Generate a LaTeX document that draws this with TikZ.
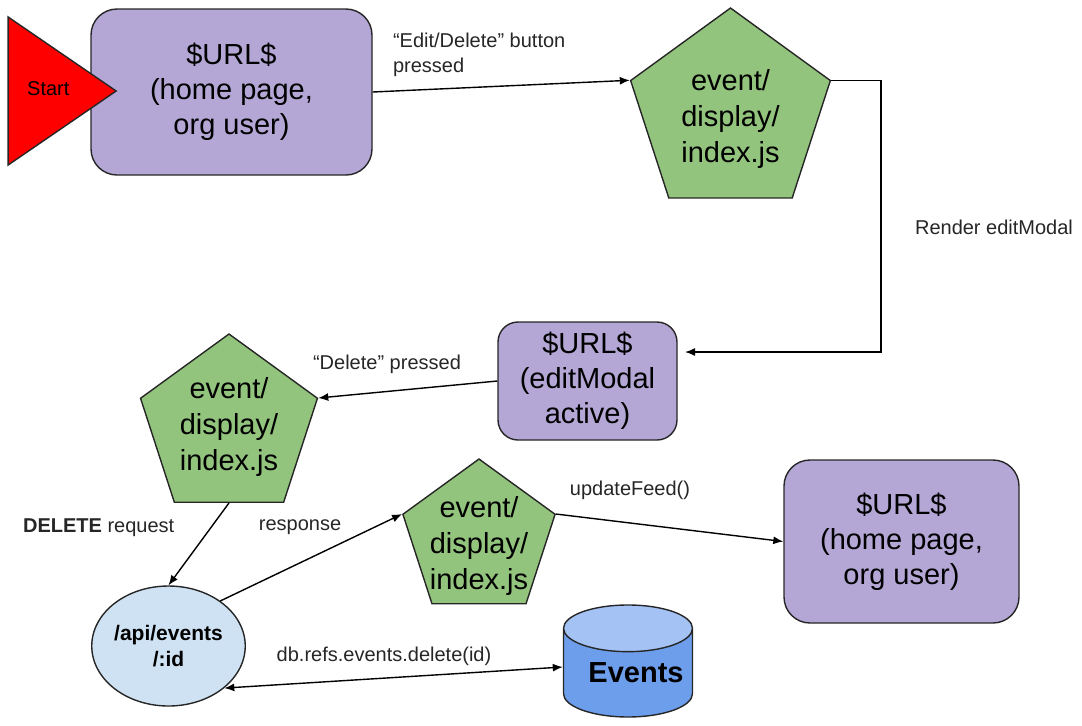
\documentclass[tikz,border=0pt]{standalone}
\usepackage{fontspec}
\setmainfont{Liberation Sans}
\usetikzlibrary{shapes.geometric,arrows.meta}

\definecolor{pagepurple}{HTML}{B4A7D6}
\definecolor{jsgreen}{HTML}{93C47D}
\definecolor{apiblue}{HTML}{CFE2F3}
\definecolor{dbblue}{HTML}{6D9EEB}
\definecolor{dbtop}{HTML}{A4C2F4}

\tikzset{
	page/.style={draw=black!85, line width=0.7pt, fill=pagepurple, rounded corners=13pt,
		align=center, font=\fontsize{14.5}{17.5}\selectfont, inner sep=0pt},
	jsfile/.style={draw=black!85, line width=0.7pt, fill=jsgreen, regular polygon,
		regular polygon sides=5, inner sep=0pt},
	jstext/.style={align=center, font=\fontsize{14.5}{18}\selectfont},
	flow/.style={line width=0.7pt, -{Latex[length=5pt,width=4pt]}},
	flowboth/.style={line width=0.7pt, {Latex[length=5pt,width=4pt]}-{Latex[length=5pt,width=4pt]}},
	note/.style={font=\fontsize{10}{12.5}\selectfont, text=black!85}
}

\begin{document}
\begin{tikzpicture}[x=0.5pt,y=-0.5pt]
	\useasboundingbox (0,0) rectangle (1082,725);
	%% pages
	\node[page, minimum width=140.5pt, minimum height=83pt] (home) at (231.5,92) {\$URL\$\\(home page,\\org user)};
	\node[page, rounded corners=10pt, minimum width=89.5pt, minimum height=59pt] (modal) at (587.5,381) {\$URL\$\\(editModal\\active)};
	\node[page, minimum width=117.5pt, minimum height=81.5pt] (feed) at (901.5,541.5) {\$URL\$\\(home page,\\org user)};
	%% start marker
	\node[draw=black!85, line width=0.7pt, fill=red, isosceles triangle, isosceles triangle stretches,
		minimum width=74pt, minimum height=54pt, inner sep=0pt, anchor=apex,
		font=\fontsize{10}{12}\selectfont] (start) at (118,91) {\raisebox{2pt}{Start}};
	%% event/display/index.js
	\node[jsfile, minimum size=105pt, label={[jstext, yshift=-3pt]center:event/\\display/\\index.js}] (jsedit) at (730.5,113) {};
	\node[jsfile, minimum size=93pt, label={[jstext]center:event/\\display/\\index.js}] (jsdel) at (229,427) {};
	\node[jsfile, minimum size=80pt, label={[jstext, yshift=-3.5pt]center:event/\\display/\\index.js}] (jsresp) at (479,539) {};
	%% api and database
	\node[draw=black!85, line width=0.7pt, ellipse, fill=apiblue, minimum width=70.5pt, minimum height=60pt,
		inner sep=0pt, align=center, font=\bfseries\fontsize{10.5}{13}\selectfont] (api) at (168.5,646) {/api/events\\/:id};
	\node[draw=black!85, line width=0.7pt, cylinder, shape border rotate=90, aspect=0.42,
		minimum width=64.5pt, minimum height=56pt, cylinder uses custom fill,
		cylinder body fill=dbblue, cylinder end fill=dbtop, inner sep=0pt,
		font=\bfseries\fontsize{14.5}{17}\selectfont] (db) at (628,673) {\hspace{8pt}Events};
	\coordinate (modalin) at (685,352);
	%% connectors
	\draw[flow] (home.east) -- (jsedit.corner 2);
	\draw[flow] (jsedit.corner 5) -- ++(50,0) |- (modalin);
	\draw[flow] (modal.west) -- (jsdel.corner 5);
	\draw[flow] (jsdel.side 3) -- (api.north);
	\draw[flow] (api.41) -- (jsresp.corner 2);
	\draw[flow] (jsresp.corner 5) -- (feed.west);
	\draw[flowboth] (api.-37) -- ([yshift=3pt]db.west);
	%% connector labels
	\node[note, anchor=west, align=left] (lbedit) at (386,54.5) {“Edit/Delete” button\\pressed};
	\node[note, anchor=west] (lbrender) at (908,227) {Render editModal};
	\node[note] (lbdelete) at (387,364) {“Delete” pressed};
	\node[note, anchor=west] (lbrequest) at (16,528) {\textbf{DELETE} request};
	\node[note] (lbresponse) at (300,527) {response};
	\node[note] (lbupdate) at (630,490) {updateFeed()};
	\node[note] (lbdb) at (384,656) {db.refs.events.delete(id)};
\end{tikzpicture}
\end{document}
